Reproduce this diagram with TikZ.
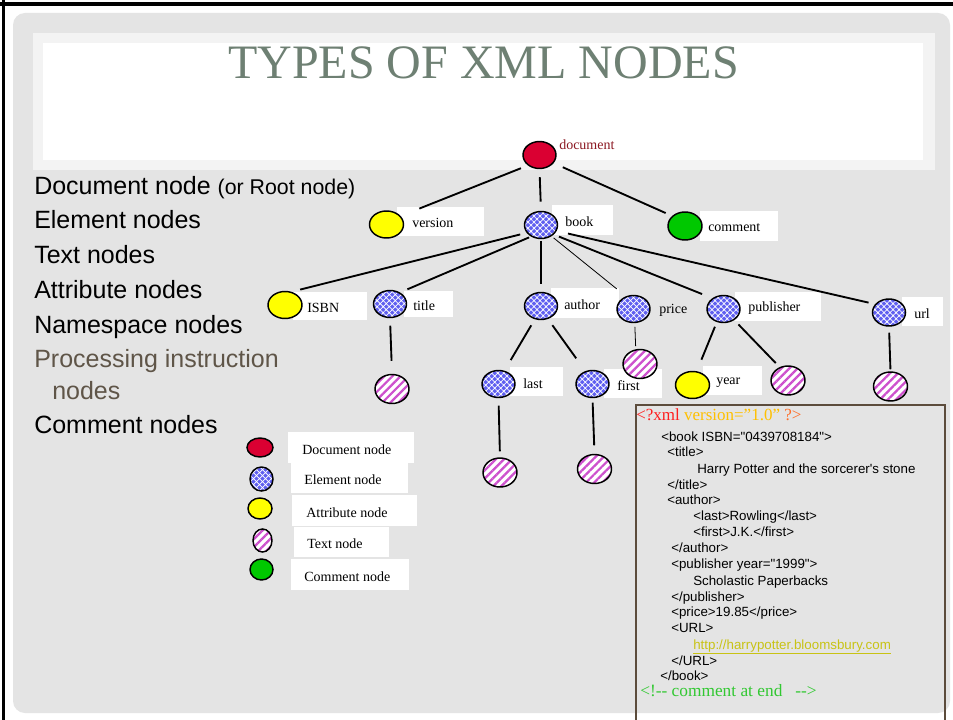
\documentclass[tikz,border=0pt]{standalone}
\usepackage{fontspec}
\setmainfont{Liberation Serif}
\newfontfamily\arialf{Liberation Sans}
\usetikzlibrary{shapes.geometric,patterns.meta}
\definecolor{bggray}{RGB}{228,228,228}
\definecolor{bandgray}{RGB}{243,243,243}
\definecolor{titlecol}{RGB}{110,128,115}
\definecolor{docred}{RGB}{218,0,50}
\definecolor{elblue}{RGB}{95,95,240}
\definecolor{txtmag}{RGB}{205,80,205}
\definecolor{attyel}{RGB}{255,255,0}
\definecolor{comgreen}{RGB}{0,200,0}
\definecolor{doclab}{RGB}{140,25,35}
\definecolor{picol}{RGB}{95,85,72}
\definecolor{codebord}{RGB}{92,76,60}
\definecolor{xmlred}{RGB}{255,30,30}
\definecolor{xmlgold}{RGB}{255,192,0}
\definecolor{xmlorange}{RGB}{255,110,40}
\definecolor{linkcol}{RGB}{200,195,20}
\definecolor{cmtgreen}{RGB}{50,200,50}
\tikzset{
  xnode/.style={ellipse, inner sep=0pt, line width=1.1pt, draw=black},
  elem/.style={xnode, preaction={fill=elblue}, pattern={Hatch[angle=45,distance=3.2pt,line width=0.55pt]}, pattern color=white, minimum width=24.75pt, minimum height=20.25pt},
  txtn/.style={xnode, preaction={fill=white}, pattern={Lines[angle=45,distance=4.3pt,line width=1.7pt]}, pattern color=txtmag, minimum width=25.5pt, minimum height=21.75pt},
  attr/.style={xnode, fill=attyel, minimum width=25.5pt, minimum height=20.25pt},
  docn/.style={xnode, fill=docred, minimum width=24.75pt, minimum height=20.25pt},
  cmtn/.style={xnode, fill=comgreen, minimum width=25.5pt, minimum height=21pt},
  wbox/.style={fill=white, inner sep=0pt, anchor=north west},
  lab/.style={font=\fontsize{10.5}{12}\selectfont, inner sep=0pt},
  conn/.style={line width=1.4pt, draw=black},
  thin/.style={line width=0.6pt, draw=black},
  sh/.code 2 args={\pgfmathsetmacro\sa{#1*0.75}\pgfmathsetmacro\sb{#2*0.75}\tikzset{shorten <=\sa pt, shorten >=\sb pt}},
  lst/.style={font=\arialf\fontsize{18.75}{22}\selectfont, anchor=base west, inner sep=0pt},
  code/.style={font=\arialf\fontsize{10}{12}\selectfont, anchor=mid west, inner sep=0pt},
}
\newcommand\labbox[7]{%
  \pgfmathsetmacro\bw{#4*0.75}\pgfmathsetmacro\bh{#5*0.75}\pgfmathsetmacro\bp{#6*0.75}%
  \node[wbox, minimum width=\bw pt, minimum height=\bh pt] (#1) at (#2,#3) {};
  \node[lab, anchor=west] (#1t) at ([xshift=\bp pt, yshift=-1.2pt]#1.west) {#7};}
\begin{document}
\begin{tikzpicture}[x=0.75pt,y=-0.75pt]
\useasboundingbox (0,0) rectangle (953,720);
\clip (0,0) rectangle (953,720);
\fill[white] (0,0) rectangle (953,720);
% frame
\fill[black] (0,2) rectangle (953,6);
\fill[black] (2,0) rectangle (5,720);
\fill[bggray, rounded corners=9pt] (13,13) rectangle (950,713);
\fill[bandgray] (33,33) rectangle (935,170);
\fill[white] (43,43) rectangle (923,160);
% title
\node[anchor=base, font=\fontsize{36}{40}\selectfont, text=titlecol, inner sep=0pt] (title0) at (483.5,78.5) {TYPES OF XML NODES};
% left list
\node[lst] (l1) at (34,194.5) {Document node {\fontsize{16}{20}\selectfont(or Root node)}};
\node[lst] (l2) at (34,228.5) {Element nodes};
\node[lst] (l3) at (34,263.5) {Text nodes};
\node[lst] (l4) at (34,298.5) {Attribute nodes};
\node[lst] (l5) at (34,333.5) {Namespace nodes};
\node[lst, text=picol] (l6) at (34,367.5) {Processing instruction};
\node[lst, text=picol] (l7) at (52,399.5) {nodes};
\node[lst] (l8) at (34,433.5) {Comment nodes};
% label boxes
\labbox{vbox}{397}{207}{87}{29}{15}{version}
\labbox{bbox}{552}{205}{61}{30}{13}{book}
\labbox{cbox}{700}{211}{78}{30}{8}{comment}
\labbox{ibox}{293}{292}{74}{28}{14}{ISBN}
\labbox{tbox}{404}{291}{49}{26}{9}{title}
\labbox{abox}{551}{288}{68}{30}{13}{author}
\labbox{pubbox}{735}{292}{86}{29}{13}{publisher}
\labbox{ubox}{902}{297}{41}{29}{12}{url}
\labbox{lbox}{510}{367}{53}{29}{13}{last}
\labbox{fbox}{604}{369}{58}{29}{13}{first}
\labbox{ybox}{703}{366}{59}{29}{13}{year}
\node[lab, anchor=west, text=doclab] (doclabel) at (559,145) {document};
\node[lab, anchor=west] (pricelabel) at (659,310) {price};
% tree nodes
\node[docn] (doc) at (539.5,155) {};
\node[attr] (version) at (386.5,224.5) {};
\node[elem] (book) at (541,225) {};
\node[cmtn] (comment) at (685,226) {};
\node[attr] (isbn) at (285,305) {};
\node[elem] (title) at (390,304) {};
\node[elem] (author) at (541,306) {};
\node[elem] (price) at (633.5,309) {};
\node[elem] (publisher) at (723.5,309) {};
\node[elem] (url) at (889,312.5) {};
\node[txtn] (titleT) at (392,389) {};
\node[elem] (last) at (498.5,384) {};
\node[elem] (first) at (592.5,384) {};
\node[txtn] (priceT) at (640,364) {};
\node[attr] (year) at (692.5,385) {};
\node[txtn] (pubT) at (788,380.5) {};
\node[txtn] (urlT) at (890.5,386.5) {};
\node[txtn] (lastT) at (500,472.5) {};
\node[txtn] (firstT) at (594.5,469) {};
% connectors
\draw[conn, sh={7.4}{20}] (doc.222) -- (version.31);
\draw[conn, sh={8}{9.5}] (doc.south) -- (book.north);
\draw[conn, sh={10}{7}] (doc.330) -- (comment.142);
\draw[conn, sh={7}{9}] (book.209) -- (isbn.64);
\draw[conn, sh={2.5}{8}] (book.230) -- (title.49);
\draw[conn, sh={2}{7.5}] (book.south) -- (author.north);
\draw[thin, sh={3}{11.7}] (book.313) -- (price.121);
\draw[conn, sh={6}{11}] (book.323) -- (publisher.136);
\draw[conn, sh={12}{6.7}] (book.339) -- (url.149);
\draw[conn, sh={7.5}{12.5}] (title.south) -- (titleT.north);
\draw[conn, sh={7}{12.3}] (author.245) -- (last.66);
\draw[conn, sh={7.6}{15.7}] (author.298) -- (first.119);
\draw[thin, sh={3.6}{3}] (price.275) -- (priceT.106);
\draw[conn, sh={5}{12.4}] (publisher.243) -- (year.73);
\draw[conn, sh={6}{5.6}] (publisher.314) -- (pubT.122);
\draw[conn, sh={6}{2}] (url.south) -- (urlT.north);
\draw[conn, sh={7.5}{6}] (last.south) -- (lastT.north);
\draw[conn, sh={4.5}{8.5}] (first.south) -- (firstT.north);
% legend
\labbox{lg1}{288}{432}{126}{31}{14}{Document node}
\labbox{lg2}{291}{463}{117}{30}{13}{Element node}
\labbox{lg3}{292}{495}{125}{31}{14}{Attribute node}
\labbox{lg4}{294}{527}{95}{30}{13}{Text node}
\labbox{lg5}{291}{559}{118}{31}{13}{Comment node}
\node[docn, minimum width=19.5pt, minimum height=14.25pt] (lgdoc) at (260,447.5) {};
\node[elem, minimum width=17.25pt, minimum height=18pt] (lgel) at (261.5,479) {};
\node[attr, minimum width=18pt, minimum height=15.75pt] (lgat) at (260,508.5) {};
\node[txtn, minimum width=14.25pt, minimum height=17.25pt] (lgtx) at (262.5,540.5) {};
\node[cmtn, minimum width=17.25pt, minimum height=15.75pt] (lgcm) at (261.5,569.5) {};
% code box
\draw[codebord, line width=1.1pt] (636,405) rectangle (945,730);
\node[anchor=mid west, inner sep=0pt, font=\fontsize{12.75}{14}\selectfont] (c0) at (636,417) {\textcolor{xmlred}{<?xml} \textcolor{xmlgold}{version=”1.0”} \textcolor{xmlorange}{?>}};
\node[code] (c1) at (661,438) {<book ISBN="0439708184">};
\node[code] (c2) at (667,453) {<title>};
\node[code] (c3) at (697,470) {Harry Potter and the sorcerer's stone};
\node[code] (c4) at (667,486) {</title>};
\node[code] (c5) at (667,501) {<author>};
\node[code] (c6) at (693,517) {<last>Rowling</last>};
\node[code] (c7) at (693,533) {<first>J.K.</first>};
\node[code] (c8) at (671,549) {</author>};
\node[code] (c9) at (671,565) {<publisher year="1999">};
\node[code] (c10) at (693,582) {Scholastic Paperbacks};
\node[code] (c11) at (671,598) {</publisher>};
\node[code] (c12) at (671,613) {<price>19.85</price>};
\node[code] (c13) at (671,629) {<URL>};
\node[code, text=linkcol] (c14) at (693,646) {\underline{http://harrypotter.bloomsbury.com}};
\node[code] (c15) at (671,662) {</URL>};
\node[code] (c16) at (660,677) {</book>};
\node[anchor=mid west, inner sep=0pt, font=\fontsize{13}{15}\selectfont, text=cmtgreen] (c17) at (640,693) {<!-{}- comment at end\ \ \ -{}->};
\end{tikzpicture}
\end{document}
